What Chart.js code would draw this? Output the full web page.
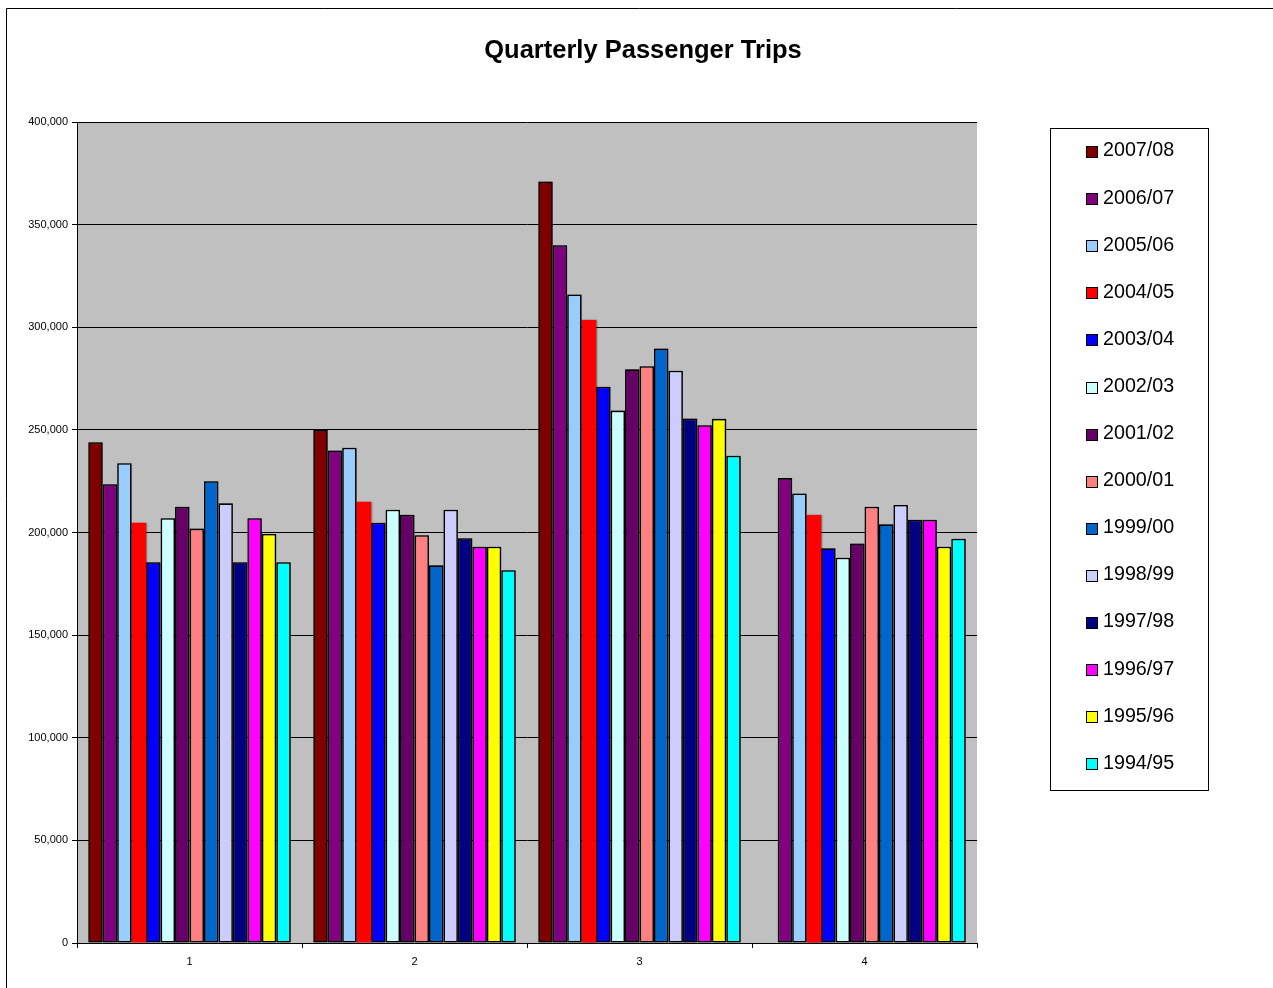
<!DOCTYPE html>
<html>
<head>
<meta charset="utf-8">
<title>Quarterly Passenger Trips</title>
<script src="https://cdn.jsdelivr.net/npm/chart.js@4/dist/chart.umd.min.js"></script>
<style>
  html, body { margin: 0; padding: 0; background: #fff; overflow: hidden; }
  #wrap { position: relative; width: 1273px; height: 988px; }
  canvas { display: block; }
</style>
</head>
<body>
<div id="wrap"><canvas id="chart" width="1273" height="988"></canvas></div>
<script>
// Quarters on the category axis
const quarters = ['1', '2', '3', '4'];

// Trips per quarter for each financial year (2007/08 has no 4th quarter yet)
const trips2007_08 = [244000, 250000, 371000, null];
const trips2006_07 = [223500, 240000, 340000, 226500];
const trips2005_06 = [233800, 241300, 316000, 219000];
const trips2004_05 = [204700, 215000, 303500, 208500];
const trips2003_04 = [185500, 204800, 271000, 192300];
const trips2002_03 = [207000, 211100, 259400, 187700];
const trips2001_02 = [212600, 208700, 279500, 194700];
const trips2000_01 = [201900, 198700, 281000, 212600];
const trips1999_00 = [225000, 184000, 289600, 204000];
const trips1998_99 = [214200, 211100, 278800, 213400];
const trips1997_98 = [185500, 197200, 255500, 206200];
const trips1996_97 = [207000, 193100, 252300, 206200];
const trips1995_96 = [199300, 193100, 255400, 193100];
const trips1994_95 = [185500, 181600, 237400, 197000];

const seasonLabels = ['2007/08', '2006/07', '2005/06', '2004/05', '2003/04', '2002/03', '2001/02',
                      '2000/01', '1999/00', '1998/99', '1997/98', '1996/97', '1995/96', '1994/95'];
const seasonValues = [trips2007_08, trips2006_07, trips2005_06, trips2004_05, trips2003_04, trips2002_03,
                      trips2001_02, trips2000_01, trips1999_00, trips1998_99, trips1997_98, trips1996_97,
                      trips1995_96, trips1994_95];
const seasonColors = ['#800000', '#800080', '#99CCFF', '#FF0000', '#0000FF', '#CCFFFF', '#660066',
                      '#FF8080', '#0066CC', '#CCCCFF', '#000080', '#FF00FF', '#FFFF00', '#00FFFF'];

// Y axis range and step
const yMin = 0;
const yMax = 400000;
const yStep = 50000;

const FONT = '"Liberation Sans", Arial, Helvetica, sans-serif';

const datasets = seasonLabels.map((label, i) => ({
  label: label,
  data: seasonValues[i],
  backgroundColor: seasonColors[i],
  borderColor: '#000000',
  borderWidth: label === '2004/05' ? 0 : 1.6,
  borderSkipped: false
}));

// Soft dark edge around the bars
const barShadowPlugin = {
  id: 'barShadow',
  beforeDatasetsDraw(chart) {
    const ctx = chart.ctx;
    ctx.save();
    ctx.shadowColor = 'rgba(0,0,0,0.5)';
    ctx.shadowBlur = 1.5;
    ctx.shadowOffsetX = 0.5;
    ctx.shadowOffsetY = 0;
  },
  afterDatasetsDraw(chart) {
    chart.ctx.restore();
  }
};

// Page frame, grey plot background, title and boxed legend
const framePlugin = {
  id: 'frame',
  beforeDraw(chart) {
    const ctx = chart.ctx;
    const a = chart.chartArea;
    ctx.save();
    ctx.fillStyle = '#ffffff';
    ctx.fillRect(0, 0, chart.width, chart.height);
    ctx.strokeStyle = '#000000';
    ctx.lineWidth = 1;
    ctx.beginPath();
    ctx.moveTo(6.5, chart.height);
    ctx.lineTo(6.5, 8.5);
    ctx.lineTo(chart.width, 8.5);
    ctx.stroke();
    ctx.fillStyle = '#C0C0C0';
    ctx.fillRect(a.left, a.top, a.right - a.left, a.bottom - a.top);
    ctx.restore();
  },
  afterDraw(chart) {
    const ctx = chart.ctx;
    ctx.save();
    // Title
    ctx.fillStyle = '#000000';
    ctx.font = 'bold 25.5px ' + FONT;
    ctx.textAlign = 'center';
    ctx.textBaseline = 'middle';
    ctx.fillText('Quarterly Passenger Trips', 643, 51);

    // Legend box
    ctx.strokeStyle = '#000000';
    ctx.lineWidth = 1;
    ctx.strokeRect(1050.5, 128.5, 158, 662);
    ctx.font = '19.7px ' + FONT;
    ctx.textAlign = 'left';
    chart.data.datasets.forEach((ds, i) => {
      const yc = 151 + i * 47.1;
      const y0 = Math.round(yc - 5) + 0.5;
      ctx.fillStyle = ds.backgroundColor;
      ctx.fillRect(1086.5, y0, 11, 11);
      ctx.strokeRect(1086.5, y0, 11, 11);
      ctx.fillStyle = '#000000';
      ctx.fillText(ds.label, 1103, yc);
    });
    ctx.restore();
  }
};

new Chart(document.getElementById('chart'), {
  type: 'bar',
  data: { labels: quarters, datasets: datasets },
  options: {
    responsive: false,
    animation: false,
    devicePixelRatio: 1,
    layout: { padding: { top: 122, right: 296, bottom: 0, left: 0 } },
    datasets: { bar: { categoryPercentage: 0.9, barPercentage: 1.0 } },
    plugins: {
      legend: { display: false },
      title: { display: false },
      tooltip: { enabled: false }
    },
    scales: {
      x: {
        grid: { offset: true, drawOnChartArea: false, drawTicks: true, tickLength: 5, color: '#000000' },
        border: { color: '#000000', width: 1 },
        ticks: { color: '#000000', font: { family: FONT, size: 11 }, padding: 7 },
        afterFit(scale) { scale.height = 45; }
      },
      y: {
        min: yMin,
        max: yMax,
        grid: { color: '#000000', tickLength: 5 },
        border: { color: '#000000', width: 1 },
        ticks: {
          stepSize: yStep,
          color: '#000000',
          font: { family: FONT, size: 11 },
          padding: 4,
          callback: v => v.toLocaleString('en-US')
        },
        afterFit(scale) { scale.width = 77; }
      }
    }
  },
  plugins: [framePlugin, barShadowPlugin]
});
</script>
</body>
</html>
